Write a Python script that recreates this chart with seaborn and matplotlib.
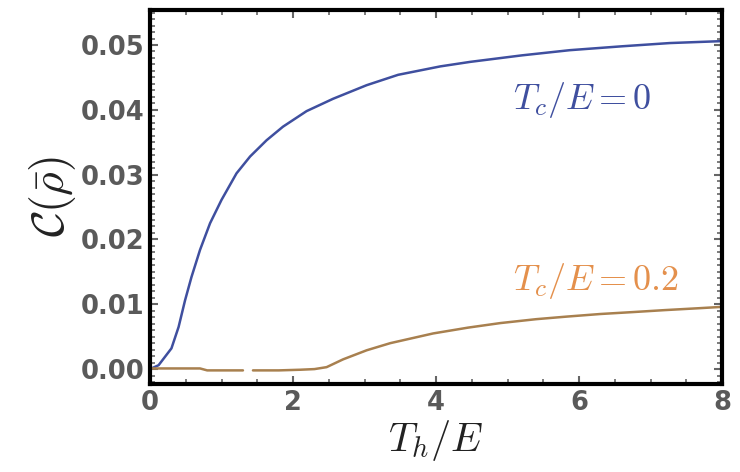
import matplotlib
matplotlib.use("Agg")
import matplotlib.pyplot as plt
import seaborn as sns
import numpy as np
import pandas as pd
from matplotlib.ticker import MultipleLocator

sns.set_theme(style="white")
plt.rcParams['font.family'] = ['DejaVu Sans']
plt.rcParams['mathtext.fontset'] = 'cm'

# Tc/E = 0 curve
x_blue = [0.0, 0.12, 0.30, 0.40, 0.49, 0.58, 0.70, 0.84, 1.00, 1.21, 1.40, 1.63, 1.86,
          2.19, 2.56, 3.03, 3.47, 4.06, 4.48, 5.20, 5.87, 6.60, 7.27, 8.0]
c_blue = [0.0, 0.0006, 0.0032, 0.0065, 0.0106, 0.0142, 0.0184, 0.0225, 0.0261, 0.0302,
          0.0328, 0.0353, 0.0374, 0.0398, 0.0417, 0.0438, 0.0454, 0.0467, 0.0474, 0.0484,
          0.0492, 0.0498, 0.0503, 0.0506]

# Tc/E = 0.2 curve (two segments, small gap near 1.35)
x_or1 = [0.0, 0.3, 0.7, 0.8, 1.3]
c_or1 = [0.0001, 0.0001, 0.0001, -0.0002, -0.0002]
x_or2 = [1.44, 1.8, 2.1, 2.3, 2.47, 2.7, 3.03, 3.36, 3.96, 4.45, 4.90, 5.4, 5.83,
         6.3, 6.76, 7.2, 7.69, 8.0]
c_or2 = [-0.0002, -0.0002, -0.0001, 0.0, 0.0003, 0.0015, 0.0029, 0.0040, 0.0055, 0.0064,
         0.0071, 0.0077, 0.0081, 0.0085, 0.0088, 0.0091, 0.0094, 0.0096]

x_ticks = [0, 2, 4, 6, 8]
y_ticks = [0.00, 0.01, 0.02, 0.03, 0.04, 0.05]

blue = '#3f4f9f'
orange_line = '#a8804f'
orange_text = '#e4904c'

df_blue = pd.DataFrame({'x': x_blue, 'c': c_blue})
df_or = pd.DataFrame({'x': x_or1 + x_or2, 'c': c_or1 + c_or2,
                      'seg': [0] * len(x_or1) + [1] * len(x_or2)})

fig = plt.figure(figsize=(7.4, 4.72), dpi=100)
ax = fig.add_axes([150 / 740, 88 / 472, 572 / 740, 374 / 472])

sns.lineplot(data=df_blue, x='x', y='c', ax=ax, color=blue, linewidth=1.8,
             estimator=None, sort=False)
sns.lineplot(data=df_or, x='x', y='c', units='seg', ax=ax, color=orange_line,
             linewidth=1.8, estimator=None, sort=False)

ax.set_xlim(0, 8)
ax.set_ylim(-0.0023, 0.0554)
ax.set_xticks(x_ticks)
ax.set_xticklabels([str(t) for t in x_ticks])
ax.set_yticks(y_ticks)
ax.set_yticklabels([f"{t:.2f}" for t in y_ticks])
ax.xaxis.set_minor_locator(MultipleLocator(0.5))
ax.yaxis.set_minor_locator(MultipleLocator(0.001))

ax.tick_params(which='both', direction='in', top=True, right=True, bottom=True, left=True,
               color='#666666')
ax.tick_params(which='major', length=6, width=1.5, labelsize=18.5, labelcolor='#5a5a5a', pad=4)
ax.tick_params(which='minor', length=3.5, width=1.2)
for lab in ax.get_xticklabels() + ax.get_yticklabels():
    lab.set_fontweight('bold')

for sp in ax.spines.values():
    sp.set_visible(True)
    sp.set_color('black')
    sp.set_linewidth(3)

ax.set_xlabel(r'$T_h/E$', fontsize=29, color='#222222', labelpad=2)
ax.set_ylabel(r'$\mathcal{C}(\bar{\rho})$', fontsize=33, color='#222222', labelpad=2)

ax.text(5.08, 0.0415, r'$T_c/E=0$', fontsize=26, color=blue, va='center', ha='left')
ax.text(5.08, 0.0136, r'$T_c/E=0.2$', fontsize=26, color=orange_text, va='center', ha='left')

fig.savefig('out.png', dpi=100)
